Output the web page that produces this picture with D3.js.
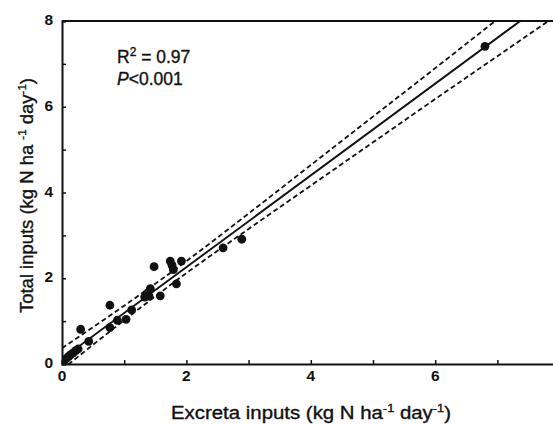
<!DOCTYPE html>
<html>
<head>
<meta charset="utf-8">
<script src="https://cdn.jsdelivr.net/npm/d3@7"></script>
<style>
  body { margin: 0; background: #fff; }
  svg { display: block; font-family: "Liberation Sans", Arial, sans-serif; }
</style>
</head>
<body>
<svg id="chart" width="553" height="424"></svg>
<script>
// data
const excreta = [0.01, 0.03, 0.05, 0.08, 0.11, 0.14, 0.18, 0.22, 0.26, 0.30, 0.43, 0.77, 0.77, 0.89, 1.03, 1.12,
  1.33, 1.37, 1.40, 1.42, 1.48, 1.58, 1.74, 1.77, 1.79, 1.84, 1.92, 2.59, 2.89, 6.80];
const total = [0.03, 0.07, 0.10, 0.14, 0.18, 0.22, 0.26, 0.31, 0.35, 0.81, 0.53, 1.37, 0.85, 1.02, 1.04, 1.26,
  1.56, 1.65, 1.58, 1.76, 2.27, 1.59, 2.40, 2.30, 2.20, 1.87, 2.40, 2.71, 2.91, 7.41];

// fitted line and 95% band
const fitX = [0, 7.9];
const fitY = [0.12, 8.57];
const bandX = [0, 1, 2, 3, 4, 5, 6, 7, 7.9];
const bandUpper = [0.37, 1.36, 2.40, 3.51, 4.64, 5.77, 6.90, 8.04, 9.06];
const bandLower = [-0.13, 1.02, 2.12, 3.15, 4.16, 5.17, 6.18, 7.18, 8.08];

const xMajor = [0, 2, 4, 6];
const xMinor = [1, 3, 5, 7];
const yMajor = [0, 2, 4, 6, 8];
const yMinor = [1, 3, 5, 7];

const svg = d3.select("#chart");
const pLeft = 62, pRight = 559.6, pTop = 21, pBottom = 364;

const x = d3.scaleLinear().domain([0, 8]).range([pLeft, pRight]);
const y = d3.scaleLinear().domain([0, 8]).range([pBottom, pTop]);

svg.append("defs").append("clipPath").attr("id", "plot")
  .append("rect")
  .attr("x", pLeft).attr("y", pTop)
  .attr("width", pRight - pLeft).attr("height", pBottom - pTop);

const plot = svg.append("g").attr("clip-path", "url(#plot)");

const line = d3.line().x(d => x(d[0])).y(d => y(d[1]));
const smooth = d3.line().x(d => x(d[0])).y(d => y(d[1])).curve(d3.curveMonotoneX);

// confidence band
[bandUpper, bandLower].forEach(vals => {
  plot.append("path")
    .datum(bandX.map((v, i) => [v, vals[i]]))
    .attr("fill", "none")
    .attr("stroke", "#111")
    .attr("stroke-width", 1.8)
    .attr("stroke-dasharray", "5,3")
    .attr("d", smooth);
});

// regression line
plot.append("path")
  .datum(fitX.map((v, i) => [v, fitY[i]]))
  .attr("fill", "none")
  .attr("stroke", "#111")
  .attr("stroke-width", 1.9)
  .attr("d", line);

// points
plot.selectAll("circle")
  .data(excreta.map((v, i) => [v, total[i]]))
  .enter()
  .append("circle")
  .attr("cx", d => x(d[0]))
  .attr("cy", d => y(d[1]))
  .attr("r", 4.4)
  .attr("fill", "#111");

// axes
const xAxis = svg.append("g")
  .attr("transform", `translate(0,${pBottom})`)
  .call(d3.axisTop(x).tickValues(xMajor.concat(xMinor)).tickSize(4).tickFormat(""));
const yAxis = svg.append("g")
  .attr("transform", `translate(${pLeft},0)`)
  .call(d3.axisRight(y).tickValues(yMajor.concat(yMinor)).tickSize(4).tickFormat(""));
[xAxis, yAxis].forEach(a => {
  a.select(".domain").attr("stroke", "#111").attr("stroke-width", 2);
  a.selectAll(".tick line").attr("stroke", "#111").attr("stroke-width", 1.5);
});

// top border
svg.append("line")
  .attr("x1", pLeft).attr("x2", pRight)
  .attr("y1", pTop).attr("y2", pTop)
  .attr("stroke", "#111").attr("stroke-width", 2);
svg.append("line")
  .attr("x1", pRight).attr("x2", pRight)
  .attr("y1", pTop).attr("y2", pBottom)
  .attr("stroke", "#111").attr("stroke-width", 2);

// tick labels
svg.append("g").selectAll("text")
  .data(xMajor)
  .enter()
  .append("text")
  .attr("x", d => x(d))
  .attr("y", pBottom + 17)
  .attr("text-anchor", "middle")
  .attr("font-size", 15.5)
  .attr("font-weight", "bold")
  .attr("fill", "#111")
  .text(d => d);

svg.append("g").selectAll("text")
  .data(yMajor)
  .enter()
  .append("text")
  .attr("x", pLeft - 9)
  .attr("y", d => y(d) + 4)
  .attr("text-anchor", "end")
  .attr("font-size", 15.5)
  .attr("font-weight", "bold")
  .attr("fill", "#111")
  .text(d => d);

// axis titles (thin stroke to mimic the heavier print)
const xt = svg.append("text")
  .attr("x", 311)
  .attr("y", 419)
  .attr("text-anchor", "middle")
  .attr("font-size", 17.5)
  .attr("textLength", 280)
  .attr("lengthAdjust", "spacingAndGlyphs")
  .attr("fill", "#111")
  .attr("stroke", "#111").attr("stroke-width", 0.35);
xt.append("tspan").text("Excreta inputs (kg N ha");
xt.append("tspan").attr("dy", -7).attr("font-size", 11).text("-1");
xt.append("tspan").attr("dy", 7).text(" day");
xt.append("tspan").attr("dy", -7).attr("font-size", 11).text("-1");
xt.append("tspan").attr("dy", 7).text(")");

const yt = svg.append("text")
  .attr("transform", `translate(33,${(pTop + pBottom) / 2 + 3}) rotate(-90)`)
  .attr("text-anchor", "middle")
  .attr("font-size", 17.5)
  .attr("textLength", 235)
  .attr("lengthAdjust", "spacingAndGlyphs")
  .attr("fill", "#111")
  .attr("stroke", "#111").attr("stroke-width", 0.35);
yt.append("tspan").text("Total inputs (kg N ha ");
yt.append("tspan").attr("dy", -7).attr("font-size", 11).text("-1");
yt.append("tspan").attr("dy", 7).text(" day");
yt.append("tspan").attr("dy", -7).attr("font-size", 11).text("-1");
yt.append("tspan").attr("dy", 7).text(")");

// statistics
const r2 = svg.append("text")
  .attr("x", 117).attr("y", 63)
  .attr("font-size", 17.5)
  .attr("fill", "#111")
  .attr("stroke", "#111").attr("stroke-width", 0.35);
r2.append("tspan").text("R");
r2.append("tspan").attr("dy", -7).attr("font-size", 12).text("2");
r2.append("tspan").attr("dy", 7).text(" = 0.97");

const p = svg.append("text")
  .attr("x", 117).attr("y", 85)
  .attr("font-size", 17.5)
  .attr("fill", "#111")
  .attr("stroke", "#111").attr("stroke-width", 0.35);
p.append("tspan").attr("font-style", "italic").text("P");
p.append("tspan").text("<0.001");
</script>
</body>
</html>
